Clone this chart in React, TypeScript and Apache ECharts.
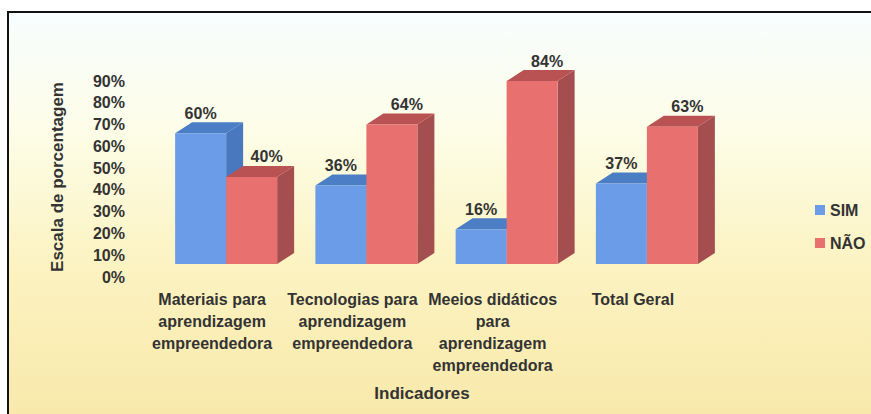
import React, { useEffect, useRef } from "react";
import * as echarts from "echarts";

const categories = [
  "Materiais para\naprendizagem\nempreendedora",
  "Tecnologias para\naprendizagem\nempreendedora",
  "Meeios didáticos\npara\naprendizagem\nempreendedora",
  "Total Geral",
];
const simValues = [60, 36, 16, 37];
const naoValues = [40, 64, 84, 63];
const yTicks = [0, 10, 20, 30, 40, 50, 60, 70, 80, 90];

const FONT = "'Liberation Sans', Arial, sans-serif";
const TEXT = "#333333";

const BAR_W = 51;
const DX = 17;
const DY = -11;

const palette = {
  sim: { front: "#6b9ce8", top: "#4c7ec5", side: "#4a78be" },
  nao: { front: "#e8716f", top: "#b95353", side: "#a54e50" },
};

function makeRender(side: "left" | "right", colors: { front: string; top: string; side: string }, labelOffset: number) {
  return (params: any, api: any) => {
    const cat = api.value(0);
    const val = api.value(1);
    const pTop = api.coord([cat, val]);
    const pBot = api.coord([cat, 0]);
    const xc = pTop[0];
    const x0 = side === "left" ? xc - BAR_W : xc;
    const x1 = x0 + BAR_W;
    const yT = pTop[1];
    const yB = pBot[1];
    return {
      type: "group",
      children: [
        {
          type: "polygon",
          shape: { points: [[x1, yT], [x1 + DX, yT + DY], [x1 + DX, yB + DY], [x1, yB]] },
          style: { fill: colors.side },
        },
        {
          type: "polygon",
          shape: { points: [[x0, yT], [x0 + DX, yT + DY], [x1 + DX, yT + DY], [x1, yT]] },
          style: { fill: colors.top },
        },
        {
          type: "rect",
          shape: { x: x0, y: yT, width: BAR_W, height: yB - yT },
          style: { fill: colors.front },
        },
        {
          type: "text",
          x: (x0 + x1) / 2 + labelOffset,
          y: yT - 20,
          style: {
            text: val + "%",
            fill: TEXT,
            font: `bold 16px ${FONT}`,
            textAlign: "center",
            textVerticalAlign: "middle",
          },
        },
      ],
    };
  };
}

export default function App() {
  const ref = useRef<HTMLDivElement>(null);
  useEffect(() => {
    if (!ref.current) return;
    const chart = echarts.init(ref.current, undefined, { renderer: "svg" });
    chart.setOption({
      animation: false,
      backgroundColor: "#ffffff",
      graphic: [
        {
          type: "rect",
          z: -10,
          shape: { x: 8, y: 12, width: 880, height: 420 },
          style: {
            fill: new echarts.graphic.LinearGradient(0, 0, 0, 1, [
              { offset: 0, color: "#f8fdff" },
              { offset: 0.3, color: "#fdfde6" },
              { offset: 0.6, color: "#fcf3c2" },
              { offset: 1, color: "#f8e8a8" },
            ]),
          },
        },
        {
          type: "line",
          z: -9,
          shape: { x1: 8, y1: 12, x2: 880, y2: 12 },
          style: { stroke: "#111111", lineWidth: 2 },
        },
        {
          type: "line",
          z: -9,
          shape: { x1: 8, y1: 11, x2: 8, y2: 420 },
          style: { stroke: "#111111", lineWidth: 2 },
        },
        {
          type: "text",
          x: 57,
          y: 177,
          rotation: Math.PI / 2,
          style: {
            text: "Escala de porcentagem",
            fill: TEXT,
            font: `bold 17px ${FONT}`,
            textAlign: "center",
            textVerticalAlign: "middle",
          },
        },
        {
          type: "text",
          x: 422,
          y: 393,
          style: {
            text: "Indicadores",
            fill: TEXT,
            font: `bold 17px ${FONT}`,
            textAlign: "center",
            textVerticalAlign: "middle",
          },
        },
      ],
      legend: {
        orient: "vertical",
        left: 815,
        top: 202,
        padding: 0,
        itemWidth: 10,
        itemHeight: 10,
        itemGap: 17,
        icon: "rect",
        data: ["SIM", "NÃO"],
        textStyle: { fontSize: 16, fontWeight: "bold", color: TEXT, fontFamily: FONT },
      },
      grid: [
        { left: 156, right: 154, top: 68, bottom: 150 },
        { left: 142, right: 168, top: 81, bottom: 137 },
      ],
      xAxis: [
        {
          gridIndex: 0,
          type: "category",
          data: categories,
          show: false,
        },
        {
          gridIndex: 1,
          type: "category",
          data: categories,
          axisLine: { show: false },
          axisTick: { show: false },
          axisLabel: {
            interval: 0,
            margin: 11,
            fontSize: 16,
            fontWeight: "bold",
            lineHeight: 22,
            color: TEXT,
            fontFamily: FONT,
          },
        },
      ],
      yAxis: [
        { gridIndex: 0, type: "value", min: 0, max: 90, show: false, splitLine: { show: false } },
        {
          gridIndex: 1,
          type: "value",
          min: 0,
          max: 90,
          interval: 10,
          axisLine: { show: false },
          axisTick: { show: false },
          splitLine: { show: false },
          axisLabel: {
            margin: 17,
            formatter: (v: number) => (yTicks.includes(v) ? v + "%" : ""),
            fontSize: 16,
            fontWeight: "bold",
            color: TEXT,
            fontFamily: FONT,
          },
        },
      ],
      series: [
        {
          name: "SIM",
          type: "custom",
          xAxisIndex: 0,
          yAxisIndex: 0,
          itemStyle: { color: "#6b9ce8" },
          renderItem: makeRender("left", palette.sim, 0),
          data: simValues.map((v, i) => [i, v]),
        },
        {
          name: "NÃO",
          type: "custom",
          xAxisIndex: 0,
          yAxisIndex: 0,
          itemStyle: { color: "#e8716f" },
          renderItem: makeRender("right", palette.nao, 15),
          data: naoValues.map((v, i) => [i, v]),
        },
      ],
    });
    return () => chart.dispose();
  }, []);
  return (
    <div
      ref={ref}
      style={{ position: "fixed", left: 0, top: 0, width: 871, height: 414 }}
    />
  );
}
